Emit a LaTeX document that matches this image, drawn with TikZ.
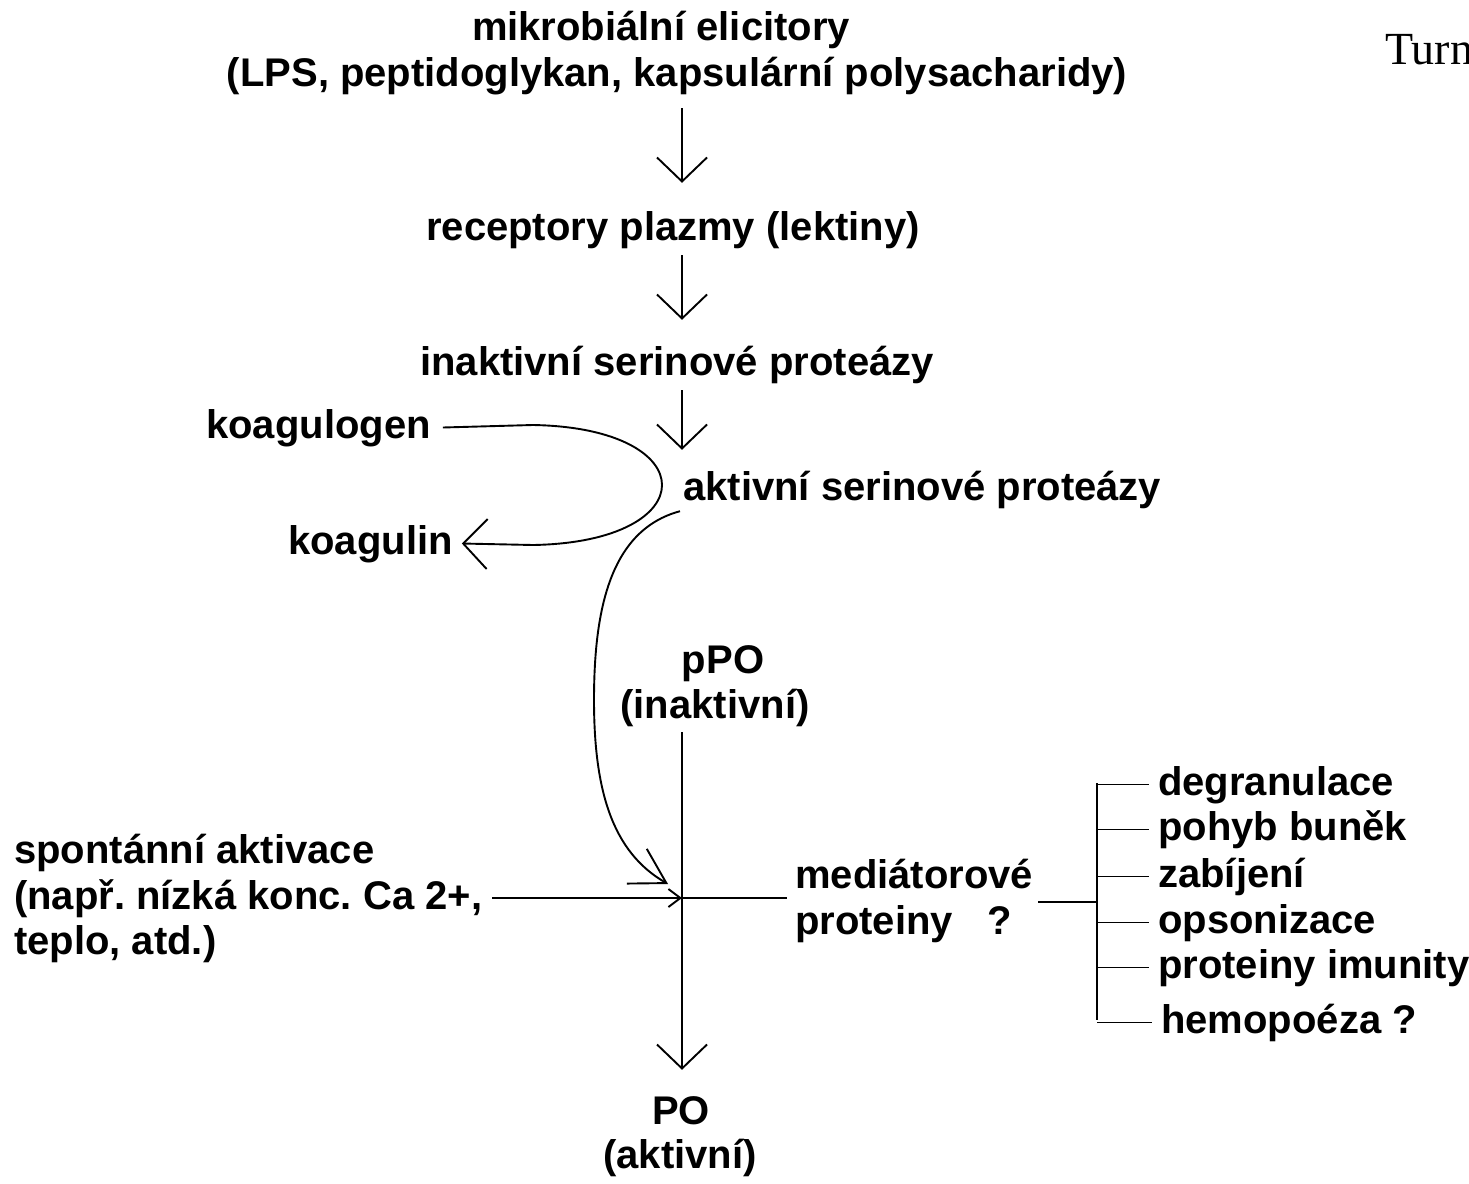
\documentclass[tikz,border=0pt]{standalone}
\usepackage{fontspec}
\setmainfont{Liberation Sans}
\newfontfamily\turnfont{Liberation Serif}
\usetikzlibrary{arrows.meta}
\frenchspacing
\begin{document}
\begin{tikzpicture}[x=1pt,y=-1pt,
  lbl/.style={inner sep=0pt, text height=30pt, text depth=9pt, font=\fontsize{40}{46}\selectfont\bfseries},
  ln/.style={line width=1.9pt, black},
  bigarr/.style={ln, -{Straight Barb[length=24pt,width=50pt]}},
  smallarr/.style={ln, -{Straight Barb[length=12pt,width=18pt]}},
  curvarr/.style={ln, -{Straight Barb[length=34pt,width=40pt]}}
]
\useasboundingbox[fill=white] (0,0) rectangle (1469,1183);
\begin{scope}
\clip (0,0) rectangle (1469,1183);
\node[anchor=base west, inner sep=0pt, font=\turnfont\fontsize{46}{50}\selectfont] (turn) at (1385,64) {Turn};
\end{scope}

% junction
\coordinate (j) at (682,898);

% main column
\node[lbl, anchor=base] (mik) at (661,40) {mikrobiální elicitory};
\node[lbl, anchor=base] (lps) at (677,86) {(LPS, peptidoglykan, kapsulární polysacharidy)};
\node[lbl, anchor=base] (rec) at (673,240) {receptory plazmy (lektiny)};
\node[lbl, anchor=base] (inak) at (677,375) {inaktivní serinové proteázy};
\node[lbl, anchor=base west] (akt) at (683,500) {aktivní serinové proteázy};
\node[lbl, anchor=base west] (kg) at (206,438) {koagulogen};
\node[lbl, anchor=base west] (kgl) at (288,554) {koagulin};
\node[lbl, anchor=base] (ppo1) at (723,673) {pPO};
\node[lbl, anchor=base] (ppo2) at (715,718) {(inaktivní)};
\node[lbl, anchor=base] (po1) at (681,1124) {PO};
\node[lbl, anchor=base] (po2) at (680,1168) {(aktivní)};

% left label
\node[lbl, anchor=base west] (sp1) at (14,863) {spontánní aktivace};
\node[lbl, anchor=base west] (sp2) at (14,909) {(např. nízká konc. Ca 2+,};
\node[lbl, anchor=base west] (sp3) at (14,954) {teplo, atd.)};

% mediators
\node[lbl, anchor=base west] (med1) at (795,888) {mediátorové};
\node[lbl, anchor=base west] (med2) at (795,934) {proteiny\hspace{34pt}?};

% right list
\node[lbl, anchor=base west] (r1) at (1158,795) {degranulace};
\node[lbl, anchor=base west] (r2) at (1158,840) {pohyb buněk};
\node[lbl, anchor=base west] (r3) at (1158,887) {zabíjení};
\node[lbl, anchor=base west] (r4) at (1158,933) {opsonizace};
\node[lbl, anchor=base west] (r5) at (1158,978) {proteiny imunity};
\node[lbl, anchor=base west] (r6) at (1161,1033) {hemopoéza ?};

% vertical arrows
\draw[bigarr, shorten <=13pt, shorten >=27pt] (lps.south -| j) -- (rec.north -| j);
\draw[bigarr, shorten <=6pt, shorten >=25pt] (rec.south -| j) -- (inak.north -| j);
\draw[bigarr, shorten <=6pt, shorten >=20pt] (inak.south -| j) -- (akt.north -| j);

% koagulogen -> koagulin loop
\draw[bigarr] ([xshift=12pt]kg.east) -- (533,425) .. controls (705,428) and (705,542) .. (533,545) -- ([xshift=9pt]kgl.east);

% active proteases -> junction
\coordinate (ct) at (668,884);
\draw[curvarr] ([xshift=-3pt,yshift=-2pt]akt.south west) .. controls (610,530) and (594,610) .. (594,700)
  .. controls (594,790) and (612,852) .. (ct);

% pPO -> PO
\draw[bigarr, shorten <=5pt, shorten >=24pt] (ppo2.south -| j) -- (po1.north -| j);

% spontaneous activation
\draw[smallarr] ([xshift=10pt]sp2.east |- j) -- (j);
\draw[ln, shorten >=8pt] (j) -- (j -| med1.west);

% bracket
\coordinate (bl) at (1038,902);
\coordinate (bm) at (1097,902);
\coordinate (bt) at (1097,783);
\coordinate (bb) at (1097,1020);
\draw[ln] (bl) -- (bm);
\draw[ln] (bt) -- (bb);
\foreach \n in {r1,r2,r3,r4,r5,r6}{
  \draw[ln, shorten >=9pt] (\n.west -| bm) -- (\n.west);
}
\end{tikzpicture}
\end{document}
